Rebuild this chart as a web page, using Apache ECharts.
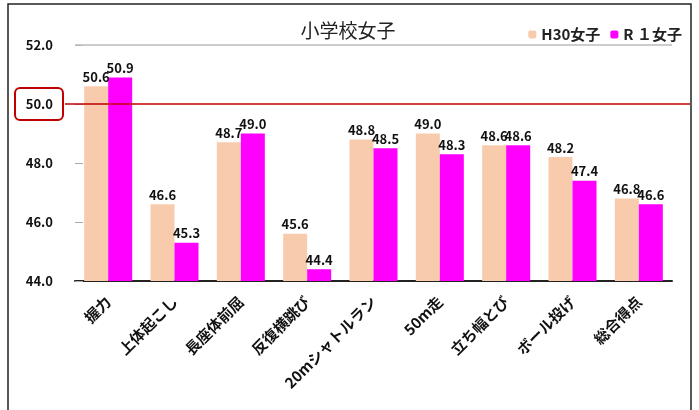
<!DOCTYPE html>
<html><head><meta charset="utf-8">
<script src="https://cdn.jsdelivr.net/npm/echarts@6/dist/echarts.min.js"></script>
<style>html,body{margin:0;padding:0;background:#fff}#c{width:699px;height:410px}</style>
</head><body><div id="c"></div>
<script>
const categories = ['握力','上体起こし','長座体前屈','反復横跳び','20mシャトルラン','50m走','立ち幅とび','ボール投げ','総合得点'];
const seriesNames = ['H30女子','R １女子'];
const h30 = [50.6, 46.6, 48.7, 45.6, 48.8, 49.0, 48.6, 48.2, 46.8];
const r1 = [50.9, 45.3, 49.0, 44.4, 48.5, 48.3, 48.6, 47.4, 46.6];
const yTicks = [44, 46, 48, 50, 52];

const chart = echarts.init(document.getElementById('c'));
const font = '"Noto Sans CJK JP", "Noto Sans", sans-serif';
const lbl = {show:true, position:'top', color:'#111', fontWeight:'bold', fontSize:13, fontFamily:font, distance:3,
  formatter: p => p.value.toFixed(1)};
chart.setOption({
  animation:false,
  title:{text:'小学校女子', left:343, top:16, textAlign:'center',
    textStyle:{fontFamily:font, fontSize:19, fontWeight:'normal', color:'#222'}},
  legend:{right:12, top:22, itemWidth:8, itemHeight:8, itemGap:10,
    textStyle:{fontFamily:font, fontSize:15, fontWeight:'bold', color:'#222'},
    data:seriesNames},
  grid:{left:75, right:27, top:45, bottom:129},
  xAxis:{type:'category', data:categories,
    axisLine:{lineStyle:{color:'#222', width:2}},
    axisTick:{show:false},
    axisLabel:{rotate:45, interval:0, fontFamily:font, fontWeight:'bold', fontSize:15, color:'#111', margin:18}},
  yAxis:{type:'value', min:yTicks[0], max:yTicks[yTicks.length-1], interval:2,
    axisLine:{show:false},
    axisTick:{show:true, inside:true, length:8, lineStyle:{color:'#aaa'}},
    splitLine:{show:false},
    axisLabel:{fontFamily:font, fontWeight:'bold', fontSize:13, color:'#111', margin:22,
      formatter: v => v.toFixed(1)}},
  series:[
    {name:seriesNames[0], type:'bar', data:h30, barWidth:24, barGap:'0%', itemStyle:{color:'#F8CBAD'}, label:lbl,
     markLine:{silent:true, symbol:'none', label:{show:false},
       lineStyle:{color:'#bbb', width:1.5, type:'solid'}, data:[{yAxis:52}]}},
    {name:seriesNames[1], type:'bar', data:r1, barWidth:24, itemStyle:{color:'#FF00FF'}, label:lbl}
  ]
});
const y50 = chart.convertToPixel({yAxisIndex:0}, 50);
chart.setOption({graphic:[
  {type:'rect', shape:{x:8, y:4, width:683, height:410}, style:{fill:'none', stroke:'#222', lineWidth:1.5}, silent:true},
  {type:'line', shape:{x1:65, y1:y50, x2:690, y2:y50}, style:{stroke:'#C00000', lineWidth:1.5}, z:10},
  {type:'rect', shape:{x:15, y:y50-16, width:48, height:32, r:5}, style:{fill:'none', stroke:'#C00000', lineWidth:2}, z:10}
]});
</script></body></html>
